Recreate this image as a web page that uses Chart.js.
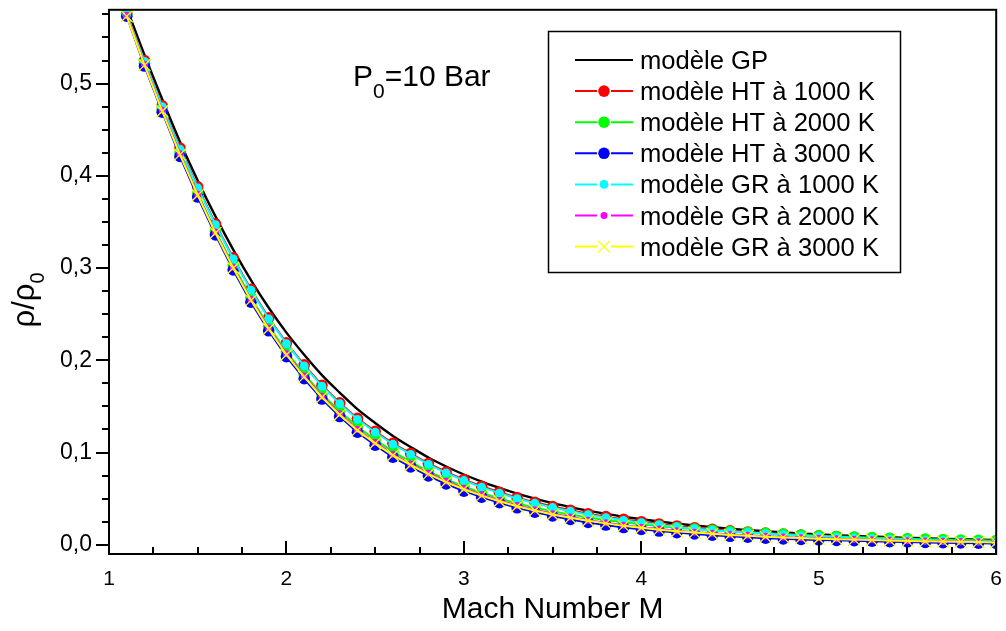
<!DOCTYPE html>
<html>
<head>
<meta charset="utf-8">
<script src="https://cdn.jsdelivr.net/npm/chart.js@4/dist/chart.umd.min.js"></script>
<style>
  html, body { margin: 0; padding: 0; background: #fff; }
</style>
</head>
<body>
<canvas id="chart" width="1006" height="631"></canvas>
<script>
const FONT = "'Liberation Sans', Arial, Helvetica, sans-serif";

// Mach numbers of the markers
const mach = [1.1, 1.2, 1.3, 1.4, 1.5, 1.6, 1.7, 1.8, 1.9, 2.0,
              2.1, 2.2, 2.3, 2.4, 2.5, 2.6, 2.7, 2.8, 2.9, 3.0,
              3.1, 3.2, 3.3, 3.4, 3.5, 3.6, 3.7, 3.8, 3.9, 4.0,
              4.1, 4.2, 4.3, 4.4, 4.5, 4.6, 4.7, 4.8, 4.9, 5.0,
              5.1, 5.2, 5.3, 5.4, 5.5, 5.6, 5.7, 5.8, 5.9, 6.0];
// GP curve is drawn without markers, starting at M = 1
const machGP = [1.0, 1.1, 1.2, 1.3, 1.4, 1.5, 1.6, 1.7, 1.8, 1.9,
                2.0, 2.1, 2.2, 2.3, 2.4, 2.5, 2.6, 2.7, 2.8, 2.9,
                3.0, 3.1, 3.2, 3.3, 3.4, 3.5, 3.6, 3.7, 3.8, 3.9,
                4.0, 4.1, 4.2, 4.3, 4.4, 4.5, 4.6, 4.7, 4.8, 4.9,
                5.0, 5.1, 5.2, 5.3, 5.4, 5.5, 5.6, 5.7, 5.8, 5.9, 6.0];

const rhoGP = [0.634, 0.582, 0.531, 0.483, 0.437, 0.395, 0.356, 0.320, 0.287, 0.257,
               0.230, 0.206, 0.184, 0.165, 0.147, 0.132, 0.118, 0.106, 0.0946, 0.0849,
               0.0762, 0.0685, 0.0617, 0.0555, 0.0501, 0.0452, 0.0409, 0.0370, 0.0336, 0.0304,
               0.0277, 0.0252, 0.0229, 0.0209, 0.0191, 0.0174, 0.0160, 0.0146, 0.0134, 0.0123,
               0.0113, 0.0104, 0.0096, 0.0089, 0.0082, 0.0076, 0.0070, 0.0065, 0.0060, 0.0056, 0.0052];

const rhoHT1000 = [0.576, 0.525, 0.476, 0.430, 0.388, 0.348, 0.311, 0.277, 0.246, 0.219,
                   0.195, 0.173, 0.154, 0.137, 0.123, 0.110, 0.099, 0.0881, 0.0789, 0.0707,
                   0.0635, 0.0570, 0.0511, 0.0460, 0.0414, 0.0374, 0.0337, 0.0305, 0.0275, 0.0250,
                   0.0226, 0.0204, 0.0185, 0.0168, 0.0152, 0.0139, 0.0126, 0.0115, 0.0105, 0.0096,
                   0.0088, 0.0080, 0.0074, 0.0067, 0.0062, 0.0056, 0.0052, 0.0047, 0.0044, 0.0040];

const rhoHT2000 = [0.575, 0.522, 0.472, 0.425, 0.381, 0.340, 0.303, 0.268, 0.237, 0.209,
                   0.185, 0.163, 0.145, 0.128, 0.114, 0.101, 0.090, 0.0796, 0.0709, 0.0632,
                   0.0563, 0.0503, 0.0449, 0.0403, 0.0362, 0.0327, 0.0295, 0.0268, 0.0243, 0.0222,
                   0.0203, 0.0185, 0.0170, 0.0157, 0.0144, 0.0134, 0.0124, 0.0115, 0.0106, 0.0098,
                   0.0090, 0.0083, 0.0077, 0.0071, 0.0066, 0.0061, 0.0056, 0.0052, 0.0048, 0.0045];

const rhoHT3000 = [0.573, 0.519, 0.469, 0.421, 0.377, 0.336, 0.298, 0.263, 0.232, 0.204,
                   0.180, 0.158, 0.139, 0.122, 0.108, 0.095, 0.0845, 0.0746, 0.0659, 0.0582,
                   0.0517, 0.0456, 0.0401, 0.0354, 0.0312, 0.0275, 0.0242, 0.0214, 0.0187, 0.0167,
                   0.0149, 0.0132, 0.0117, 0.0104, 0.0092, 0.0082, 0.0072, 0.0064, 0.0058, 0.0053,
                   0.0048, 0.0044, 0.0039, 0.0034, 0.0030, 0.0026, 0.0023, 0.0020, 0.0017, 0.0014];

const rhoGR1000 = [0.575, 0.524, 0.475, 0.429, 0.387, 0.347, 0.310, 0.276, 0.245, 0.218,
                   0.194, 0.172, 0.153, 0.136, 0.122, 0.109, 0.098, 0.0871, 0.0779, 0.0697,
                   0.0625, 0.0560, 0.0501, 0.0450, 0.0404, 0.0364, 0.0327, 0.0295, 0.0265, 0.0240,
                   0.0216, 0.0194, 0.0175, 0.0158, 0.0143, 0.0133, 0.0121, 0.0110, 0.0100, 0.0091,
                   0.0083, 0.0075, 0.0069, 0.0062, 0.0057, 0.0051, 0.0047, 0.0042, 0.0039, 0.0035];

const rhoGR2000 = [0.574, 0.521, 0.471, 0.424, 0.380, 0.339, 0.301, 0.266, 0.235, 0.207,
                   0.183, 0.161, 0.142, 0.125, 0.111, 0.098, 0.0875, 0.0776, 0.0689, 0.0612,
                   0.0542, 0.0481, 0.0426, 0.0379, 0.0337, 0.0300, 0.0267, 0.0239, 0.0212, 0.0190,
                   0.0170, 0.0152, 0.0137, 0.0124, 0.0112, 0.0102, 0.0092, 0.0084, 0.0077, 0.0070,
                   0.0064, 0.0059, 0.0054, 0.0049, 0.0045, 0.0041, 0.0038, 0.0035, 0.0032, 0.0029];

const rhoGR3000 = [0.573, 0.520, 0.470, 0.423, 0.379, 0.338, 0.300, 0.265, 0.234, 0.206,
                   0.182, 0.160, 0.141, 0.124, 0.110, 0.097, 0.0865, 0.0766, 0.0679, 0.0602,
                   0.0533, 0.0472, 0.0418, 0.0371, 0.0329, 0.0292, 0.0260, 0.0232, 0.0205, 0.0184,
                   0.0164, 0.0147, 0.0132, 0.0119, 0.0107, 0.0097, 0.0088, 0.0080, 0.0073, 0.0066,
                   0.0061, 0.0056, 0.0051, 0.0046, 0.0042, 0.0038, 0.0035, 0.0032, 0.0029, 0.0026];

const xTicks = [1, 2, 3, 4, 5, 6];
const yTicks = [0, 0.1, 0.2, 0.3, 0.4, 0.5];
const yTickLabels = ["0,0", "0,1", "0,2", "0,3", "0,4", "0,5"];
const xMinorStep = 0.25;
const yMinorStep = 0.025;

const pts = (xs, ys) => xs.map((m, i) => ({ x: m, y: ys[i] }));

// order: lower number is drawn on top (Origin plots later series over earlier ones)
const datasets = [
    { label: "modèle GP", data: pts(machGP, rhoGP), borderColor: "#000000", borderWidth: 2.4,
      pointRadius: 0, cubicInterpolationMode: "monotone", order: 6, mark: "none" },
    { label: "modèle HT à 1000 K", data: pts(mach, rhoHT1000), borderColor: "#ff0000", backgroundColor: "#ff0000",
      pointRadius: 5.8, order: 5, mark: "circle" },
    { label: "modèle HT à 2000 K", data: pts(mach, rhoHT2000), borderColor: "#00ff00", backgroundColor: "#00ff00",
      pointRadius: 5.8, order: 4, mark: "circle" },
    { label: "modèle HT à 3000 K", data: pts(mach, rhoHT3000), borderColor: "#0000ff", backgroundColor: "#0000ff",
      pointRadius: 5.8, order: 3, mark: "circle" },
    { label: "modèle GR à 1000 K", data: pts(mach, rhoGR1000), borderColor: "#00ffff", backgroundColor: "#00ffff",
      pointRadius: 4.4, order: 2, mark: "circle" },
    { label: "modèle GR à 2000 K", data: pts(mach, rhoGR2000), borderColor: "#ff00ff", backgroundColor: "#ff00ff",
      pointRadius: 3.5, order: 1, mark: "circle" },
    { label: "modèle GR à 3000 K", data: pts(mach, rhoGR3000), borderColor: "#ffff00", backgroundColor: "#ffff00",
      pointRadius: 8.5, pointStyle: "crossRot", pointBorderWidth: 1.3, order: 0, mark: "cross" },
];
datasets.forEach(d => {
    d.fill = false;
    d.tension = d.tension || 0;
    d.clip = 0;
    if (d.borderWidth === undefined) d.borderWidth = 2;
    if (d.mark === "circle") {
        d.pointBackgroundColor = d.borderColor;
        d.pointBorderWidth = 0;
    }
    if (d.mark === "cross") d.pointBorderColor = d.borderColor;
});

function drawMark(ctx, d, x, y) {
    if (d.mark === "circle") {
        ctx.fillStyle = d.borderColor;
        ctx.beginPath();
        ctx.arc(x, y, d.pointRadius, 0, Math.PI * 2);
        ctx.fill();
    } else if (d.mark === "cross") {
        const r = d.pointRadius * Math.SQRT1_2;
        ctx.strokeStyle = d.borderColor;
        ctx.lineWidth = d.pointBorderWidth;
        ctx.beginPath();
        ctx.moveTo(x - r, y - r); ctx.lineTo(x + r, y + r);
        ctx.moveTo(x - r, y + r); ctx.lineTo(x + r, y - r);
        ctx.stroke();
    }
}

// no automatic label padding: the plot area is placed by the layout padding only
function noPad(s) {
    s.paddingTop = 0; s.paddingBottom = 0; s.paddingLeft = 0; s.paddingRight = 0;
}

// frame + Origin style ticks (y ticks outside, x ticks inside)
const framePlugin = {
    id: "frame",
    afterDatasetsDraw(chart) {
        const { ctx, chartArea: a, scales: { x, y } } = chart;
        ctx.save();
        ctx.strokeStyle = "#000";
        ctx.lineWidth = 2;
        ctx.strokeRect(a.left, a.top, a.right - a.left, a.bottom - a.top);
        ctx.beginPath();
        for (let i = 0; i * yMinorStep <= 0.58; i++) {
            const py = Math.round(y.getPixelForValue(i * yMinorStep));
            const len = i % 4 === 0 ? 13 : 7;
            ctx.moveTo(a.left, py); ctx.lineTo(a.left - len, py);
        }
        for (let i = 0; 1 + i * xMinorStep <= 6.0001; i++) {
            const px = Math.round(x.getPixelForValue(1 + i * xMinorStep));
            const len = i % 4 === 0 ? 13 : 7;
            ctx.moveTo(px, a.bottom); ctx.lineTo(px, a.bottom - len);
        }
        ctx.stroke();
        ctx.restore();
    },
    afterDraw(chart) {
        const { ctx, chartArea: a } = chart;
        ctx.save();
        // y axis title  ρ/ρ0  (rotated, with subscript)
        ctx.fillStyle = "#000";
        ctx.translate(34, 300);
        ctx.rotate(-Math.PI / 2);
        const main = "ρ/ρ";
        ctx.font = "31px " + FONT;
        const wMain = ctx.measureText(main).width;
        ctx.font = "20px " + FONT;
        const wSub = ctx.measureText("0").width;
        const x0 = -(wMain + wSub) / 2;
        ctx.font = "31px " + FONT;
        ctx.textBaseline = "alphabetic";
        ctx.fillText(main, x0, 0);
        ctx.font = "20px " + FONT;
        ctx.fillText("0", x0 + wMain, 10);
        ctx.restore();

        // annotation  P0=10 Bar
        ctx.save();
        ctx.fillStyle = "#000";
        ctx.textBaseline = "alphabetic";
        ctx.font = "30px " + FONT;
        ctx.fillText("P", 353, 86);
        const wP = ctx.measureText("P").width;
        ctx.font = "21px " + FONT;
        ctx.fillText("0", 353 + wP, 98);
        const w0 = ctx.measureText("0").width;
        ctx.font = "30px " + FONT;
        ctx.fillText("=10 Bar", 353 + wP + w0, 86);
        ctx.restore();

        // legend box
        ctx.save();
        ctx.fillStyle = "#fff";
        ctx.fillRect(548.5, 31.5, 352, 241);
        ctx.strokeStyle = "#000";
        ctx.lineWidth = 1.5;
        ctx.strokeRect(548.5, 31.5, 352, 241);
        chart.data.datasets.forEach((d, i) => {
            const ry = 60 + i * 31.1;
            ctx.strokeStyle = d.borderColor;
            ctx.lineWidth = 2;
            ctx.beginPath();
            if (d.mark === "none") {
                ctx.moveTo(575, ry); ctx.lineTo(633, ry);
            } else {
                ctx.moveTo(575, ry); ctx.lineTo(597, ry);
                ctx.moveTo(611, ry); ctx.lineTo(633, ry);
            }
            ctx.stroke();
            drawMark(ctx, d, 604, ry);
            ctx.fillStyle = "#000";
            ctx.font = "25.6px " + FONT;
            ctx.textBaseline = "alphabetic";
            ctx.fillText(d.label, 640, ry + 9);
        });
        ctx.restore();
    }
};

const chart = new Chart(document.getElementById("chart"), {
    type: "line",
    data: { datasets: datasets },
    options: {
        responsive: false,
        animation: false,
        devicePixelRatio: 1,
        layout: { padding: { top: 7, right: 7, left: 0, bottom: 0 } },
        plugins: { legend: { display: false }, tooltip: { enabled: false } },
        scales: {
            x: {
                type: "linear", min: 1, max: 6,
                grid: { display: false, drawTicks: false },
                border: { display: false },
                afterBuildTicks: s => { s.ticks = xTicks.map(v => ({ value: v })); },
                afterFit: s => { s.height = 77; noPad(s); },
                ticks: { color: "#000", font: { family: FONT, size: 21 }, padding: 13, maxRotation: 0, autoSkip: false },
                title: { display: true, text: "Mach Number M", color: "#000",
                         font: { family: FONT, size: 30 }, padding: { top: 0, bottom: 3 } }
            },
            y: {
                type: "linear", min: -0.01, max: 0.58,
                grid: { display: false, drawTicks: false },
                border: { display: false },
                afterBuildTicks: s => { s.ticks = yTicks.map(v => ({ value: v })); },
                afterFit: s => { s.width = 109; noPad(s); },
                ticks: { color: "#000", font: { family: FONT, size: 23 }, padding: 17,
                         callback: (v, i) => yTickLabels[i] }
            }
        }
    },
    plugins: [framePlugin]
});
</script>
</body>
</html>
